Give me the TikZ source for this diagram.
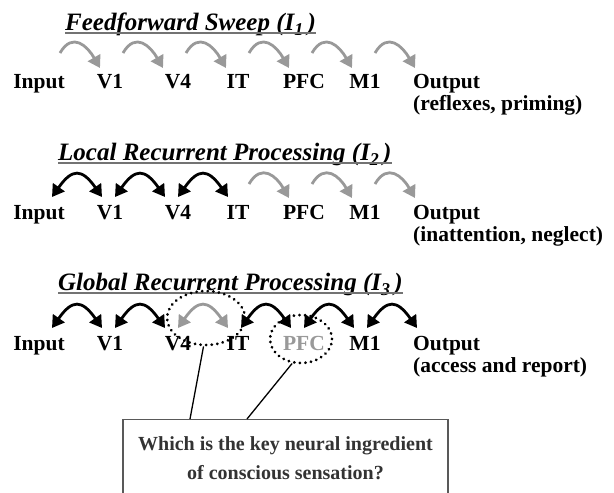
\documentclass[tikz,border=0pt]{standalone}
\usepackage{fontspec}
\setmainfont{Liberation Serif}
\usetikzlibrary{arrows.meta, shapes.geometric}

\tikzset{
  area/.style={font=\fontsize{21.5}{22}\selectfont\bfseries, inner sep=0pt, anchor=base},
  note/.style={font=\fontsize{21.5}{22}\selectfont\bfseries, inner sep=0pt, anchor=base west},
  heading/.style={font=\fontsize{25}{26}\selectfont\bfseries\itshape, inner sep=0pt, anchor=base west},
  uline/.style={draw=black!55, line width=1.3pt},
  fwd/.style={draw=black!40, line width=2.8pt, -{Triangle[length=12pt,width=14pt]}},
  rec/.style={line width=2.8pt, {Triangle[length=12pt,width=14pt]}-{Triangle[length=12pt,width=14pt]}},
  ring/.style={ellipse, draw, line width=3pt, dash pattern=on 0.1pt off 5.5pt, line cap=round, inner sep=0pt},
  pointer/.style={draw=black, line width=1.3pt},
  question/.style={draw=black!65, line width=1.3pt, font=\fontsize{20}{29}\selectfont\bfseries, text=black!80, align=center}
}
\newcommand{\idx}[1]{\raisebox{-0.5ex}{\fontsize{18}{18}\selectfont #1}}

\begin{document}
\begin{tikzpicture}[x=1pt, y=1pt]
\useasboundingbox (0,0) rectangle (614,-493);

% headings
\node[heading] (headA) at (65,-30) {Feedforward Sweep (I\idx{1}\,)};
\node[heading] (headB) at (58,-160) {Local Recurrent Processing (I\idx{2}\,)};
\node[heading] (headC) at (58,-290) {Global Recurrent Processing (I\idx{3}\,)};
\foreach \r in {A,B,C}
  \draw[uline] ([yshift=-3pt]head\r.base west) -- ([yshift=-3pt]head\r.base east);

% areas
\foreach \r/\y/\c in {A/88/black, B/219/black, C/350/black!40} {
  \node[area] (in\r) at (39,-\y) {Input};
  \node[area] (vone\r) at (110,-\y) {V1};
  \node[area] (vfour\r) at (178,-\y) {V4};
  \node[area] (it\r) at (238,-\y) {IT};
  \node[area, text=\c] (pfc\r) at (304,-\y) {PFC};
  \node[area] (mone\r) at (365,-\y) {M1};
  \node[note] (out\r) at (413,-\y) {Output};
}
\node[note] (whyA) at (413,-110) {(reflexes, priming)};
\node[note] (whyB) at (413,-241) {(inattention, neglect)};
\node[note] (whyC) at (413,-372) {(access and report)};

% feedforward sweep
\foreach \k in {0,...,5} {
  \coordinate (sA\k) at ({60+63*\k},-53);
  \coordinate (eA\k) at ({100+63*\k},-68);
  \draw[fwd] (sA\k) to[out=60, in=120, looseness=1.5] (eA\k);
}

% local recurrence
\foreach \k in {0,1,2} {
  \coordinate (sB\k) at ({52+63*\k},-197);
  \coordinate (eB\k) at ({102+63*\k},-197);
  \draw[rec] (sB\k) to[out=55, in=125, looseness=1.8] (eB\k);
}
\foreach \k in {3,4,5} {
  \coordinate (sB\k) at ({60+63*\k},-184);
  \coordinate (eB\k) at ({100+63*\k},-198);
  \draw[fwd] (sB\k) to[out=60, in=120, looseness=1.5] (eB\k);
}

% global recurrence
\foreach \k in {0,...,5} {
  \coordinate (sC\k) at ({52+63*\k},-328);
  \coordinate (eC\k) at ({102+63*\k},-328);
}
\foreach \k in {0,1,3,4,5}
  \draw[rec] (sC\k) to[out=55, in=125, looseness=1.8] (eC\k);
\draw[rec, draw=black!40] (sC2) to[out=55, in=125, looseness=1.8] (eC2);

\node[ring, minimum width=78pt, minimum height=54pt] (ringV) at (206,-318) {};
\node[ring, minimum width=62pt, minimum height=48pt] (ringP) at (301,-339) {};

\node[question, anchor=north, minimum width=325pt, inner ysep=17pt] (ask) at (285.5,-419)
  {Which is the key neural ingredient\\of conscious sensation?};
\draw[pointer] (ringV.265) -- ([xshift=-95.5pt]ask.north);
\draw[pointer] (ringP.250) -- ([xshift=-38.5pt]ask.north);

\end{tikzpicture}
\end{document}
